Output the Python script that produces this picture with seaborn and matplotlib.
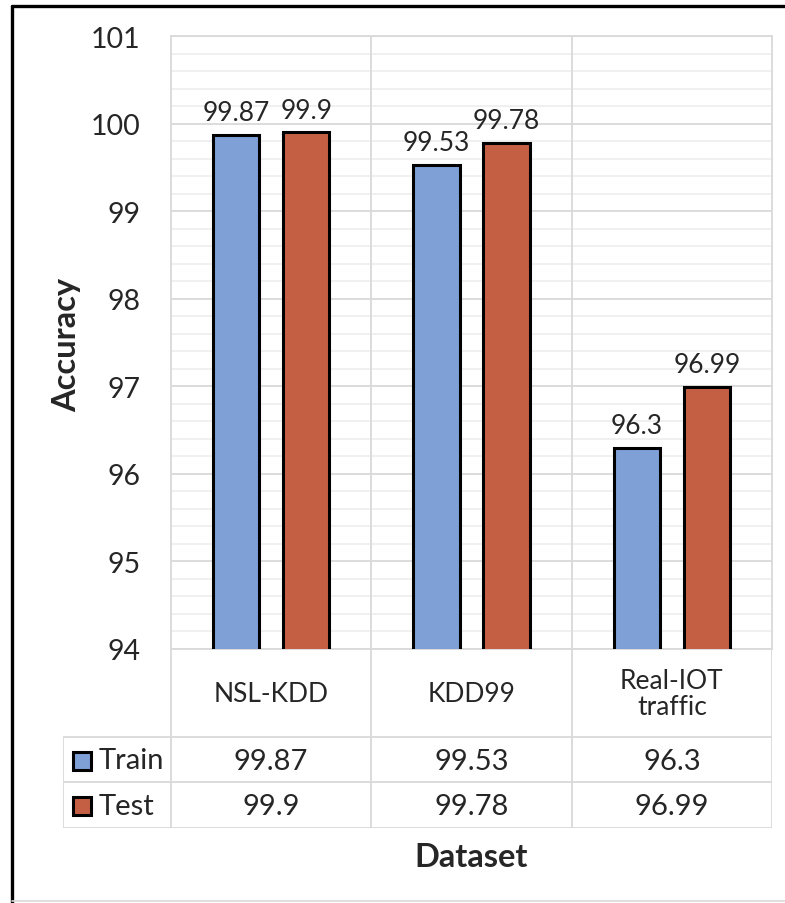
import matplotlib
matplotlib.use("Agg")
import matplotlib.pyplot as plt
from matplotlib.lines import Line2D
from matplotlib.patches import Rectangle
import seaborn as sns
import pandas as pd
import numpy as np

# ---- data ----
datasets = ["NSL-KDD", "KDD99", "Real-IOT\ntraffic"]
splits = ["Train", "Test"]
train_acc = [99.87, 99.53, 96.3]
test_acc = [99.9, 99.78, 96.99]
train_text = ["99.87", "99.53", "96.3"]
test_text = ["99.9", "99.78", "96.99"]
y_ticks = [94, 95, 96, 97, 98, 99, 100, 101]

colors = {"Train": "#7EA0D6", "Test": "#C55F43"}
grid_major = "#D9D9D9"
grid_minor = "#EFEFEF"

df = pd.DataFrame({
    "Dataset": datasets * 2,
    "Split": ["Train"] * 3 + ["Test"] * 3,
    "Accuracy": train_acc + test_acc,
})

sns.set_theme(style="white")
plt.rcParams["font.family"] = ["Lato", "DejaVu Sans"]

W, H = 785, 904
fig = plt.figure(figsize=(W / 100, H / 100), dpi=100)


def fx(px):
    return px / W


def fy(py):
    return 1 - py / H


# plot area in pixels
L, R, T, B = 171, 772, 37, 650
ax = fig.add_axes([fx(L), fy(B), fx(R - L), fy(T) - fy(B)])

sns.barplot(data=df, x="Dataset", y="Accuracy", hue="Split", hue_order=splits,
            palette=colors, width=0.7, gap=0.34, edgecolor="black",
            linewidth=2.2, saturation=1, legend=False, ax=ax, zorder=3)

ax.set_ylim(94, 101)
ax.set_xlim(-0.5, 2.5)
ax.set_yticks(y_ticks)
ax.set_yticks(np.arange(94, 101.01, 0.2), minor=True)
ax.grid(axis="y", which="major", color=grid_major, lw=1.3, zorder=0)
ax.grid(axis="y", which="minor", color=grid_minor, lw=1.3, zorder=0)
for xv in [0.5, 1.5]:
    ax.axvline(xv, color=grid_major, lw=1.3, zorder=1)
for sp in ax.spines.values():
    sp.set_color(grid_major)
    sp.set_linewidth(1.3)
ax.set_xticks([])
ax.set_xlabel("")
ax.set_ylabel("")
ax.tick_params(axis="y", which="both", length=0, pad=22, labelsize=20.5)

for cont, labels in zip(ax.containers, [train_text, test_text]):
    ax.bar_label(cont, labels=labels, padding=7, fontsize=19)

fig.text(fx(67), fy(345), "Accuracy", rotation=90, ha="center", va="center",
         fontsize=23.5, fontweight="bold")

# ---- data table under the plot ----
cat_w = (R - L) / 3
TL = 63  # left edge of legend column
tab = fig.add_axes([fx(TL), fy(829), fx(R - TL), fy(B) - fy(829)])
tab.set_xlim(-0.5 - (L - TL) / cat_w, 2.5)
tab.set_ylim(829, B)
tab.axis("off")

row_label_bottom, row_train_bottom, row_test_bottom = 738, 783, 829
line_kw = dict(color=grid_major, lw=1.3, solid_capstyle="butt")
x_left = -0.5 - (L - TL) / cat_w
for yv in [row_label_bottom, row_train_bottom, row_test_bottom]:
    tab.plot([x_left, 2.5], [yv, yv], **line_kw)
for xv in [-0.5, 0.5, 1.5, 2.5]:
    tab.plot([xv, xv], [B, row_test_bottom], **line_kw)
tab.plot([x_left, x_left], [row_label_bottom, row_test_bottom], **line_kw)

for i, name in enumerate(datasets):
    tab.text(i, (B + row_label_bottom) / 2 + 1, name, ha="center", va="center",
             fontsize=19, linespacing=1.05)
    tab.text(i, (row_label_bottom + row_train_bottom) / 2 + 2, train_text[i],
             ha="center", va="center", fontsize=21)
    tab.text(i, (row_train_bottom + row_test_bottom) / 2 + 1, test_text[i],
             ha="center", va="center", fontsize=21)

# legend keys in the first column
key_x0 = x_left + (73 - TL) / cat_w
key_w = 18 / cat_w
for split, (top, bot) in zip(splits, [(row_label_bottom, row_train_bottom),
                                      (row_train_bottom, row_test_bottom)]):
    yc = (top + bot) / 2 + 1
    tab.add_patch(Rectangle((key_x0, yc - 9), key_w, 18, facecolor=colors[split],
                            edgecolor="black", lw=2.2, clip_on=False))
    tab.text(x_left + (99 - TL) / cat_w, yc, split, ha="left", va="center",
             fontsize=21)

fig.text(fx((L + R) / 2), fy(858), "Dataset", ha="center", va="center",
         fontsize=23.5, fontweight="bold")

# chart border
fig.add_artist(Line2D([fx(12), fx(W + 5)], [fy(7), fy(7)], color="black", lw=2.4))
fig.add_artist(Line2D([fx(12), fx(12)], [fy(7), fy(H + 5)], color="black", lw=2.4))
fig.add_artist(Line2D([fx(12), fx(W)], [fy(902), fy(902)], color=grid_major, lw=1.2))

fig.savefig("out.png", dpi=100, facecolor="white")
